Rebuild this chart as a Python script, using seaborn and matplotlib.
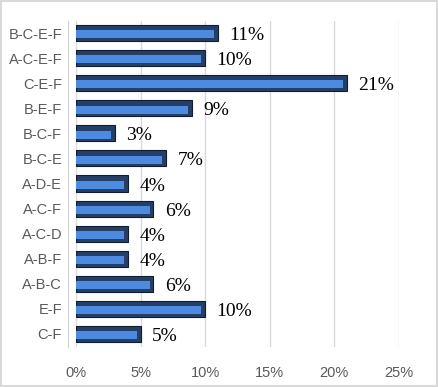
import numpy as np
import pandas as pd
import matplotlib
matplotlib.use("Agg")
import matplotlib.pyplot as plt
import matplotlib.ticker as mtick
from matplotlib.patches import Rectangle
import seaborn as sns

# Data (top to bottom as shown)
categories = ["B-C-E-F", "A-C-E-F", "C-E-F", "B-E-F", "B-C-F", "B-C-E",
              "A-D-E", "A-C-F", "A-C-D", "A-B-F", "A-B-C", "E-F", "C-F"]
shares = [0.11, 0.10, 0.21, 0.09, 0.03, 0.07, 0.04, 0.06, 0.04, 0.04, 0.06, 0.10, 0.05]
labels = ["11%", "10%", "21%", "9%", "3%", "7%", "4%", "6%", "4%", "4%", "6%", "10%", "5%"]

df = pd.DataFrame({"Combo": categories, "Share": shares})

sns.set_style("white")
plt.rcParams['font.family'] = ['Liberation Sans', 'DejaVu Sans']

fig = plt.figure(figsize=(4.38, 3.87), dpi=100)
ax = fig.add_axes([76 / 438, 1 - 346.5 / 387, (398.5 - 76) / 438, (346.5 - 20.5) / 387])

# Dark base bar
sns.barplot(data=df, x="Share", y="Combo", order=categories, color="#263f66",
            saturation=1, width=0.64, orient="h", ax=ax, zorder=3)
n_dark = len(ax.patches)
# Lighter stripe inside each bar
sns.barplot(data=df, x="Share", y="Combo", order=categories, color="#4d8be0",
            saturation=1, width=0.32, orient="h", ax=ax, zorder=4)
for p in ax.patches[n_dark:]:
    p.set_y(p.get_y() + 0.05)
    p.set_width(p.get_width() - 0.003)
    p.set_x(0.0)
    p.set_edgecolor("none")
    p.set_linewidth(0)

for p in ax.patches[:n_dark]:
    p.set_edgecolor("#0f1d33")
    p.set_linewidth(0.8)

# Value labels
for i, (v, lab) in enumerate(zip(shares, labels)):
    ax.text(v + 0.009, i + 0.1, lab, va="center", ha="left",
            fontsize=14, family=["Liberation Serif", "DejaVu Serif"], color="black")

ax.set_xlim(0, 0.25)
ax.set_ylim(len(categories) - 0.5, -0.5)
ax.xaxis.set_major_locator(mtick.MultipleLocator(0.05))
ax.xaxis.set_major_formatter(mtick.PercentFormatter(xmax=1.0, decimals=0))
ax.grid(axis="x", color="#d9d9d9", linewidth=1, zorder=0)
ax.set_axisbelow(True)
ax.set_xlabel("")
ax.set_ylabel("")

for s in ["top", "right", "bottom"]:
    ax.spines[s].set_visible(False)
ax.spines["left"].set_color("#d0d0d0")
ax.spines["left"].set_position(("outward", 6))

ax.tick_params(axis="x", length=0, labelsize=10.5, labelcolor="#595959", pad=14)
ax.tick_params(axis="y", which="major", length=0, labelsize=10.5, labelcolor="#595959", pad=4)
ax.set_yticks(np.arange(-0.5, len(categories), 1.0), minor=True)
ax.tick_params(axis="y", which="minor", length=4, direction="in", color="#d0d0d0")

# Figure border
fig.patches.append(Rectangle((0.002, 0.002), 0.996, 0.996, transform=fig.transFigure,
                             fill=False, edgecolor="#d9d9d9", linewidth=1.5))

fig.savefig("out.png", dpi=100)
